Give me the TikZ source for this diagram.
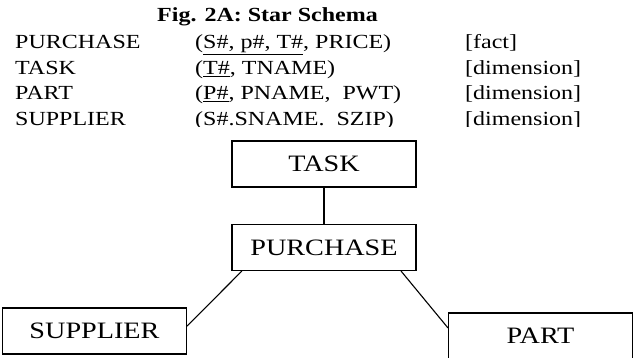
\documentclass[tikz,border=0pt]{standalone}
\usepackage{fontspec}
\setmainfont{Liberation Serif}[FakeStretch=1.2]
\begin{document}
\begin{tikzpicture}[x=1pt,y=-1pt,
	row/.style={anchor=base west,inner sep=0pt,font=\fontsize{20}{24}\selectfont},
	table/.style={draw,line width=1.1pt,minimum width=184pt,minimum height=46pt,font=\fontsize{23.5}{28}\selectfont},
	link/.style={line width=1.1pt}]
	\useasboundingbox (0,0) rectangle (638,358);
	\begin{scope}
		\clip (0,0) rectangle (638,126.5);
		\node[row] (title) at (157,22) {\textbf{Fig. 2A: Star Schema}};
		\foreach \tab/\keys/\kind [count=\i] in {PURCHASE/{(\underline{S\#, p\#, T\#}, PRICE)}/fact,
			TASK/{(\underline{T\#}, TNAME)}/dimension,
			PART/{(\underline{P\#}, PNAME,~ PWT)}/dimension,
			SUPPLIER/{(S\#.SNAME.~ SZIP)}/dimension}{
			\node[row] (name-\i) at (15,49+\i*25.4-25.4) {\tab};
			\node[row] (keys-\i) at (195,49+\i*25.4-25.4) {\keys};
			\node[row] (kind-\i) at (465,49+\i*25.4-25.4) {[\kind]};
		}
	\end{scope}
	\node[table] (task) at (324,164) {TASK};
	\node[table] (purchase) at (324,247.5) {PURCHASE};
	\node[table] (supplier) at (94.5,331) {SUPPLIER};
	\node[table] (part) at (540.5,336) {PART};
	\draw[link] (task) -- (purchase);
	\draw[link] (purchase.196) -- (supplier.3);
	\draw[link] (purchase.-17.6) -- (part.175.6);
\end{tikzpicture}
\end{document}
